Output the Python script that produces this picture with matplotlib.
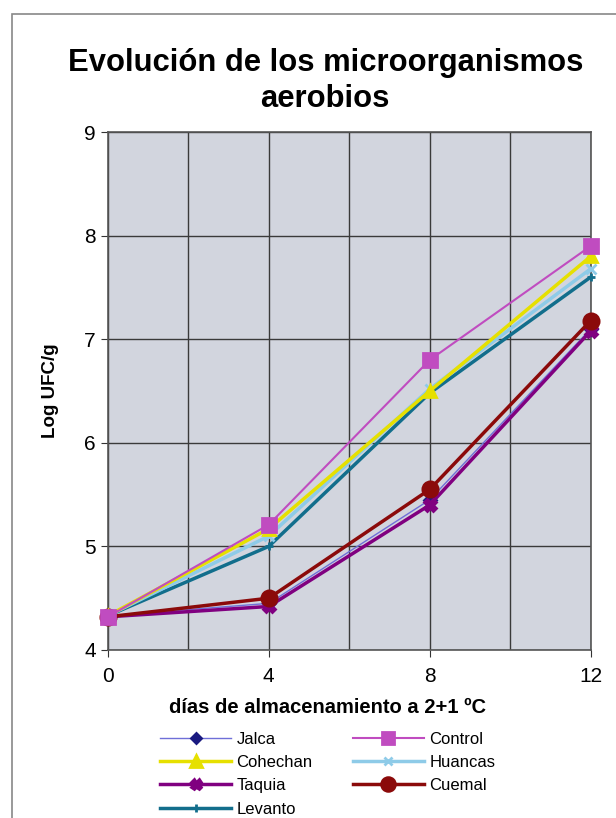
import matplotlib.pyplot as plt
from matplotlib.patches import Rectangle

dias = [0, 4, 8, 12]
jalca = [4.33, 4.45, 5.45, 7.10]
cohechan = [4.33, 5.17, 6.50, 7.80]
taquia = [4.32, 4.42, 5.40, 7.08]
levanto = [4.33, 5.00, 6.48, 7.60]
control = [4.32, 5.21, 6.80, 7.90]
huancas = [4.33, 5.10, 6.52, 7.68]
cuemal = [4.32, 4.50, 5.55, 7.18]

plt.rcParams['font.family'] = ['Liberation Sans', 'DejaVu Sans']

fig = plt.figure(figsize=(6.16, 8.18), dpi=100)
fig.patches.append(Rectangle((12 / 616, -0.01), 1.0, 1 - 14 / 818 + 0.01,
                             transform=fig.transFigure, fill=False,
                             edgecolor='#888888', lw=1.2))

ax = fig.add_axes([0.175, 0.2054, 0.784, 0.6332])
ax.set_facecolor('#d2d5de')

# series: (label, values, line color, marker, marker color, line width, marker size)
series = [
    ('Jalca', jalca, '#6f6fd8', 'D', '#1a1a80', 1.0, 6),
    ('Cohechan', cohechan, '#e6e000', '^', '#e6e000', 2.5, 9),
    ('Taquia', taquia, '#800080', 'X', '#800080', 2.5, 8),
    ('Levanto', levanto, '#126e8c', '+', '#126e8c', 2.5, 6),
    ('Control', control, '#c04cc0', 's', '#c04cc0', 1.5, 10),
    ('Huancas', huancas, '#8ecbe8', 'x', '#8ecbe8', 2.5, 7),
    ('Cuemal', cuemal, '#8b0a0a', 'o', '#8b0a0a', 2.5, 11),
]
draw_order = ['Jalca', 'Taquia', 'Cuemal', 'Levanto', 'Huancas', 'Cohechan', 'Control']
handles = {}
for name in draw_order:
    lab, vals, c, m, mc, lw, ms = next(s for s in series if s[0] == name)
    h, = ax.plot(dias, vals, color=c, lw=lw, marker=m, markersize=ms,
                 markerfacecolor=mc, markeredgecolor=mc, markeredgewidth=2,
                 label=lab, clip_on=False, zorder=3)
    handles[lab] = h

ax.set_xlim(0, 12)
ax.set_ylim(4, 9)
ax.set_xticks([0, 4, 8, 12])
ax.set_xticks([2, 6, 10], minor=True)
ax.set_yticks([4, 5, 6, 7, 8, 9])
ax.grid(True, which='both', color='#3a3a3a', lw=1.0)
ax.set_axisbelow(True)
ax.tick_params(axis='both', which='both', length=5, labelsize=15, color='#333333')
ax.tick_params(axis='x', which='minor', length=0)
ax.tick_params(axis='x', pad=7)
for sp in ax.spines.values():
    sp.set_color('#555555')
    sp.set_linewidth(1.2)

ax.set_ylabel('Log UFC/g', fontsize=13.5, fontweight='bold', labelpad=18)
ax.set_xlabel('días de almacenamiento a 2+1 ºC', fontsize=14.5, fontweight='bold', labelpad=9,
              x=0.455)
fig.text(0.528, 0.901, 'Evolución de los microorganismos\naerobios', ha='center', va='center',
         fontsize=22.3, fontweight='bold', linespacing=1.22)

order = [s[0] for s in series]
ax.legend([handles[n] for n in order], order, ncol=2, loc='upper center',
          bbox_to_anchor=(0.455, -0.135), frameon=False, fontsize=12,
          handlelength=4.3, columnspacing=2.4, labelspacing=0.5, handletextpad=0.3,
          borderpad=0.2, markerscale=0.9)

fig.savefig('out.png', dpi=100)
